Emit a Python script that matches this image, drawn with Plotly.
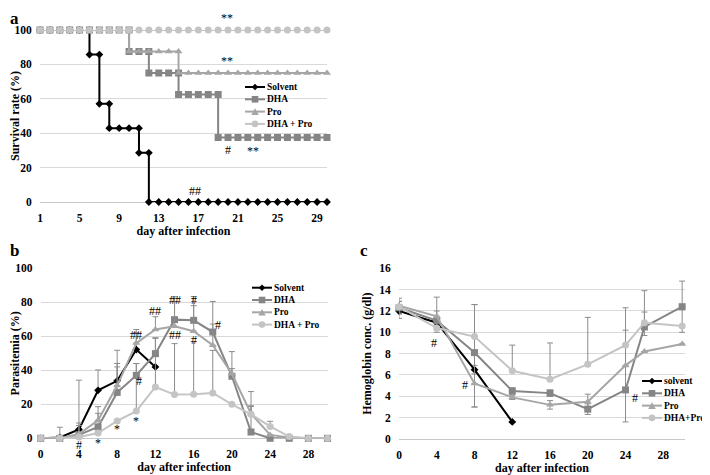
import plotly.graph_objects as go

# the page body adds an 8px offset, so the figure is 8px smaller and all
# layout positions below are given in window pixels
OFF = 8
W, H = 710 - OFF, 475 - OFF
FONT = "Liberation Serif"

NAMES = ["Solvent", "DHA", "Pro", "DHA + Pro"]
NAMES_C = ["solvent", "DHA", "Pro", "DHA+Pro"]
COLORS = ["#000000", "#858585", "#a6a6a6", "#c4c4c4"]
SYMBOLS = ["diamond", "square", "triangle-up", "circle"]
ERR_COLOR = "#8c8c8c"

# ---- a: survival rate (%), step points as in the source sheet
days_solvent = [1, 2, 3, 4, 5, 6, 6, 7, 7, 8, 8, 9, 10, 11, 11, 12, 12, 13, 14, 15,
                16, 17, 18, 19, 20, 21, 22, 23, 24, 25, 26, 27, 28, 29, 30]
surv_solvent = [100, 100, 100, 100, 100, 100, 85.7, 85.7, 57.1, 57.1, 42.9, 42.9, 42.9,
                42.9, 28.6, 28.6, 0, 0, 0, 0, 0, 0, 0, 0, 0, 0, 0, 0, 0, 0, 0, 0, 0, 0, 0]
days_dha = [1, 2, 3, 4, 5, 6, 7, 8, 9, 10, 10, 11, 12, 12, 13, 14, 15, 15, 16, 17, 18,
            19, 19, 20, 21, 22, 23, 24, 25, 26, 27, 28, 29, 30]
surv_dha = [100, 100, 100, 100, 100, 100, 100, 100, 100, 100, 87.5, 87.5, 87.5, 75, 75,
            75, 75, 62.5, 62.5, 62.5, 62.5, 62.5, 37.5, 37.5, 37.5, 37.5, 37.5, 37.5,
            37.5, 37.5, 37.5, 37.5, 37.5, 37.5]
days_pro = [1, 2, 3, 4, 5, 6, 7, 8, 9, 10, 10, 11, 12, 13, 14, 15, 15, 16, 17, 18, 19,
            20, 21, 22, 23, 24, 25, 26, 27, 28, 29, 30]
surv_pro = [100, 100, 100, 100, 100, 100, 100, 100, 100, 100, 87.5, 87.5, 87.5, 87.5,
            87.5, 87.5, 75, 75, 75, 75, 75, 75, 75, 75, 75, 75, 75, 75, 75, 75, 75, 75]
days_combo = [1, 2, 3, 4, 5, 6, 7, 8, 9, 10, 11, 12, 13, 14, 15, 16, 17, 18, 19, 20,
              21, 22, 23, 24, 25, 26, 27, 28, 29, 30]
surv_combo = [100, 100, 100, 100, 100, 100, 100, 100, 100, 100, 100, 100, 100, 100, 100,
              100, 100, 100, 100, 100, 100, 100, 100, 100, 100, 100, 100, 100, 100, 100]
ticks_a = [1, 5, 9, 13, 17, 21, 25, 29]

# ---- b: parasitemia (%)
days_b_solvent = [0, 2, 4, 6, 8, 10, 12]
para_solvent = [0, 0.5, 5.2, 28.2, 33.8, 52.2, 42]
para_solvent_err = [0, 0, 29, 12, 18, 10, 0]
days_b = [0, 2, 4, 6, 8, 10, 12, 14, 16, 18, 20, 22, 24, 26, 28, 30]
para_dha = [0, 0, 2, 6.7, 27, 37, 49.8, 69.8, 69.4, 62.5, 36.5, 3.7, 0, 0, 0, 0]
para_dha_err = [0, 6.5, 7, 8, 17, 7, 9, 13.5, 14, 18, 14.5, 15, 0, 0, 0, 0]
para_pro = [0, 0, 2.5, 10.6, 31, 56, 64, 65.9, 63, 54.7, 38, 14.5, 2, 0.5, 0, 0]
para_pro_err = [0, 0, 5, 8, 11, 8, 7.5, 14.5, 15, 12.5, 3, 13, 0, 0, 0, 0]
para_combo = [0, 0, 0.8, 3.1, 10.2, 16, 30.2, 25.7, 25.9, 26.7, 20, 14.1, 7, 1, 0, 0]
para_combo_err = [0, 0, 0, 0, 0, 28, 29, 30, 31, 25, 0, 5, 3, 0, 0, 0]
ticks_bc = [0, 4, 8, 12, 16, 20, 24, 28]

# ---- c: hemoglobin (g/dl)
days_c_solvent = [0, 4, 8, 12]
hb_solvent = [12.0, 10.9, 6.5, 1.6]
hb_solvent_err = [0.2, 0.2, 0.4, 0]
days_c = [0, 4, 8, 12, 16, 20, 24, 26, 30]
hb_dha = [12.3, 11.1, 8.1, 4.5, 4.3, 2.8, 4.6, 10.5, 12.4]
hb_dha_plus = [0.6, 0.9, 4.5, 0.3, 0.3, 0.5, 7.7, 3.4, 2.4]
hb_dha_minus = [0.6, 0.9, 5.1, 0.3, 0.3, 0.5, 3.0, 0.8, 2.4]
hb_pro = [12.5, 11.5, 5.2, 3.9, 3.2, 3.5, 6.9, 8.2, 8.9]
hb_pro_plus = [0.7, 1.8, 0, 0.2, 0.4, 0.7, 3.3, 0, 0]
hb_pro_minus = [0.7, 0, 2.2, 0.2, 0.4, 0.7, 0, 0, 0]
hb_combo = [12.4, 10.4, 9.6, 6.4, 5.6, 7.0, 8.8, 10.9, 10.6]
hb_combo_plus = [0.5, 0, 3.0, 2.4, 3.4, 4.4, 0, 1.0, 0]
hb_combo_minus = [1.1, 0.4, 0, 0, 0, 0, 0, 0, 0]


def px(x):
    return (x - OFF) / W


def py(y):
    return 1 - (y - OFF) / H


def line_trace(x, y, i, xa, ya, size=7, err=None):
    return go.Scatter(
        x=x, y=y, mode="lines+markers", xaxis=xa, yaxis=ya, showlegend=False,
        line=dict(color=COLORS[i], width=2),
        marker=dict(symbol=SYMBOLS[i], size=size if i else size - 1, color=COLORS[i]),
        error_y=err, cliponaxis=False,
    )


def err_up(vals):
    return dict(type="data", array=vals, arrayminus=[0] * len(vals), symmetric=False,
                color=ERR_COLOR, thickness=1, width=3)


def err_pm(plus, minus):
    return dict(type="data", array=plus, arrayminus=minus, symmetric=False,
                color=ERR_COLOR, thickness=1, width=3)


fig = go.Figure()

# panel a
for i, (d, v) in enumerate([(days_solvent, surv_solvent), (days_dha, surv_dha),
                            (days_pro, surv_pro), (days_combo, surv_combo)]):
    fig.add_trace(line_trace(d, v, i, "x", "y"))

# panel b
fig.add_trace(line_trace(days_b_solvent, para_solvent, 0, "x2", "y2", err=err_up(para_solvent_err)))
fig.add_trace(line_trace(days_b, para_dha, 1, "x2", "y2", err=err_up(para_dha_err)))
fig.add_trace(line_trace(days_b, para_pro, 2, "x2", "y2", err=err_up(para_pro_err)))
fig.add_trace(line_trace(days_b, para_combo, 3, "x2", "y2", err=err_up(para_combo_err)))

# panel c
fig.add_trace(line_trace(days_c_solvent, hb_solvent, 0, "x3", "y3",
                         err=err_pm(hb_solvent_err, hb_solvent_err)))
fig.add_trace(line_trace(days_c, hb_dha, 1, "x3", "y3", err=err_pm(hb_dha_plus, hb_dha_minus)))
fig.add_trace(line_trace(days_c, hb_pro, 2, "x3", "y3", err=err_pm(hb_pro_plus, hb_pro_minus)))
fig.add_trace(line_trace(days_c, hb_combo, 3, "x3", "y3", err=err_pm(hb_combo_plus, hb_combo_minus)))


def add_legend(x0, y0, names, step=12.3):
    # small hand-laid legend, spacing tighter than plotly's native one allows
    for i, name in enumerate(names):
        y = y0 + i * step
        c = COLORS[i]
        fig.add_shape(type="line", xref="paper", yref="paper", x0=px(x0), x1=px(x0 + 20),
                      y0=py(y), y1=py(y), line=dict(color=c, width=2))
        cx = x0 + 10
        r = 3.3
        if SYMBOLS[i] == "square":
            fig.add_shape(type="rect", xref="paper", yref="paper", x0=px(cx - r), x1=px(cx + r),
                          y0=py(y + r), y1=py(y - r), fillcolor=c, line=dict(width=0))
        elif SYMBOLS[i] == "circle":
            fig.add_shape(type="circle", xref="paper", yref="paper", x0=px(cx - r), x1=px(cx + r),
                          y0=py(y + r), y1=py(y - r), fillcolor=c, line=dict(width=0))
        elif SYMBOLS[i] == "triangle-up":
            path = (f"M {px(cx - r - 0.5)},{py(y + r)} L {px(cx + r + 0.5)},{py(y + r)} "
                    f"L {px(cx)},{py(y - r)} Z")
            fig.add_shape(type="path", xref="paper", yref="paper", path=path, fillcolor=c,
                          line=dict(width=0))
        else:
            path = (f"M {px(cx - r)},{py(y)} L {px(cx)},{py(y - r)} L {px(cx + r)},{py(y)} "
                    f"L {px(cx)},{py(y + r)} Z")
            fig.add_shape(type="path", xref="paper", yref="paper", path=path, fillcolor=c,
                          line=dict(width=0))
        fig.add_annotation(text=f"<b>{name}</b>", xref="paper", yref="paper",
                           x=px(x0 + 20), y=py(y), xanchor="left", yanchor="middle",
                           showarrow=False, font=dict(family=FONT, size=9.5, color="#000"))


add_legend(245, 87, NAMES)
add_legend(252, 287.7, NAMES)
add_legend(642, 381, NAMES_C)

# significance marks inside the axis ranges
marks = [
    ("x", "y", 19.9, 82, "**"), ("x", "y", 20.0, 30, "#"),
    ("x", "y", 22.5, 29.5, "**"), ("x", "y", 16.7, 6.5, "##"),
    ("x2", "y2", 8, 5.5, "*"),
    ("x2", "y2", 10, 10, "*"), ("x2", "y2", 10, 61, "##"), ("x2", "y2", 10.3, 33.5, "#"),
    ("x2", "y2", 12, 75, "##"), ("x2", "y2", 14, 81.5, "##"), ("x2", "y2", 14, 61, "##"),
    ("x2", "y2", 16, 81.5, "#"), ("x2", "y2", 16, 58, "#"), ("x2", "y2", 18.5, 66.5, "#"),
    ("x3", "y3", 3.7, 9.0, "#"), ("x3", "y3", 7.0, 5.1, "#"), ("x3", "y3", 24.95, 3.8, "#"),
]
for xa, ya, x, y, t in marks:
    fig.add_annotation(text=t, xref=xa, yref=ya, x=x, y=y, showarrow=False,
                       xanchor="center", yanchor="middle",
                       font=dict(family=FONT, size=12, color="#000"))

# marks that sit outside the value range (above 100 / below 0): y in window pixels
marks_outside = [("x", 19.9, 18, "**"), ("x2", 4, 444.5, "#"), ("x2", 6, 443, "*")]
for xa, x, ypix, t in marks_outside:
    fig.add_annotation(text=t, xref=xa, yref="paper", x=x, y=py(ypix), showarrow=False,
                       xanchor="center", yanchor="middle",
                       font=dict(family=FONT, size=12, color="#000"))

for t, x, y, anchor in [("a", 8.5, 19, "left"), ("b", 8.5, 250, "left"), ("c", 364, 250, "center")]:
    fig.add_annotation(text=f"<b>{t}</b>", xref="paper", yref="paper", x=px(x), y=py(y),
                       xanchor=anchor, yanchor="middle", showarrow=False, borderpad=0,
                       font=dict(family=FONT, size=17, color="#000"))

tickfont = dict(family=FONT, size=11.5, color="#000")
titlefont = dict(family=FONT, size=12, color="#000")


def xax(domain, rng, ticks):
    return dict(domain=domain, range=rng, tickvals=ticks, ticktext=[f"<b>{t}</b>" for t in ticks],
                showgrid=False, zeroline=False, showline=False, ticks="outside", ticklen=5,
                tickcolor="rgba(0,0,0,0)", tickfont=tickfont, automargin=False,
                title=dict(text="<b>day after infection</b>", font=titlefont, standoff=3))


def yax(domain, rng, dtick, title, anchor):
    vals = list(range(rng[0], rng[1] + 1, dtick))
    return dict(domain=domain, range=rng, tickvals=vals, ticktext=[f"<b>{v}</b>" for v in vals],
                showgrid=True, gridcolor="#d9d9d9", gridwidth=1, zeroline=True,
                zerolinecolor="#c8c8c8", zerolinewidth=1, showline=False, ticks="outside",
                ticklen=5, tickcolor="rgba(0,0,0,0)", tickfont=tickfont, anchor=anchor,
                automargin=False,
                title=dict(text=f"<b>{title}</b>", font=titlefont, standoff=4))


fig.update_layout(
    width=W, height=H, margin=dict(l=0, r=0, t=0, b=0, autoexpand=False),
    paper_bgcolor="white", plot_bgcolor="white", showlegend=False, template="none",
    xaxis=dict(xax([px(40), px(327)], [1, 30], ticks_a), anchor="y"),
    yaxis=yax([py(202), py(30)], [0, 100], 20, "Survival rate (%)", "x"),
    xaxis2=dict(xax([px(40.7), px(327.5)], [0, 30], ticks_bc), anchor="y2"),
    yaxis2=yax([py(438.3), py(268.3)], [0, 100], 20, "Parasitemia (%)", "x2"),
    xaxis3=dict(xax([px(399), px(685)], [0, 30.3], ticks_bc), anchor="y3"),
    yaxis3=yax([py(439), py(268.3)], [0, 16], 2, "Hemoglobin conc. (g/dl)", "x3"),
)

fig.write_html("out.html")
